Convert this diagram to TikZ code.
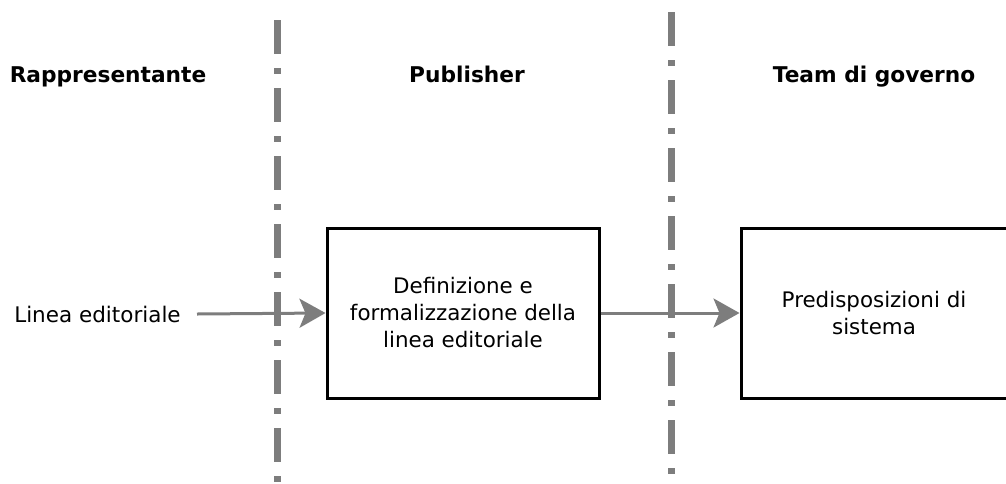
\documentclass[tikz,border=0pt]{standalone}
\usepackage{fontspec}
\setmainfont{DejaVu Sans}
\usetikzlibrary{arrows.meta}
\begin{document}
\begin{tikzpicture}[x=1pt,y=-1pt,
  lane/.style={draw=gray!98!black, line width=7pt,
    dash pattern=on 34pt off 14pt on 6pt off 14pt},
  head/.style={font=\bfseries\fontsize{21.7}{25}\selectfont, anchor=base, inner sep=0pt},
  task/.style={draw=black, line width=3pt, minimum width=272pt, minimum height=170pt,
    align=center, inner sep=0pt, font=\fontsize{21.4}{27}\selectfont},
  flow/.style={draw=gray!98!black, line width=3pt,
    -{Stealth[length=26pt,width=29pt,inset=6pt]}, shorten >=0pt}]
\useasboundingbox (0,0) rectangle (1006,483);
\clip (0,0) rectangle (1006,483);
% swimlane separators
\coordinate (l1a) at (277.5,20);
\coordinate (l1b) at (277.5,482);
\coordinate (l2a) at (671.5,12);
\coordinate (l2b) at (671.5,475);
\draw[lane] (l1a) -- (l1b);
\draw[lane] (l2a) -- (l2b);
% lane titles
\node[head] (h1) at (108,82) {Rappresentante};
\node[head] (h2) at (467,82) {Publisher};
\node[head] (h3) at (874,82) {Team di governo};
% steps
\node[font=\fontsize{21.5}{25}\selectfont] (src) at (97.5,314) {Linea editoriale};
\coordinate (s0) at (197,314);
\node[task] (def) at (463,313) {Definizione e\\formalizzazione della\\linea editoriale};
\node[task] (sys) at (877,313) {};
\node[align=center, font=\fontsize{21.4}{27}\selectfont] (syst) at (874,313) {Predisposizioni di\\sistema};
\draw[flow] (s0) -- (def.west);
\draw[flow] (def.east) -- (sys.west);
\end{tikzpicture}
\end{document}
